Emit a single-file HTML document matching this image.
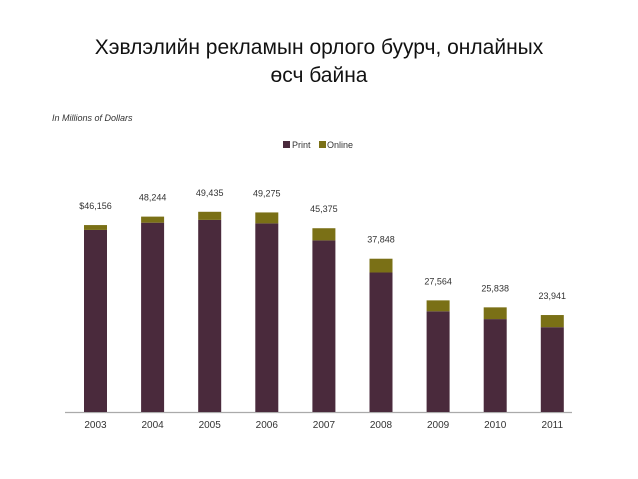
<!DOCTYPE html>
<html><head><meta charset="utf-8"><style>
body{margin:0;background:#fff;width:638px;height:479px;overflow:hidden;font-family:"Liberation Sans",sans-serif}
#title{position:absolute;left:0;top:34px;width:638px;text-align:center;font-size:21px;line-height:28px;color:#111;font-family:"Liberation Sans","DejaVu Sans",sans-serif}
</style></head><body>
<div id="title">Хэвлэлийн рекламын орлого буурч, онлайных<br>өсч байна</div>
<svg id="chart" width="638" height="479" style="position:absolute;left:0;top:0">
<text x="52" y="121" font-size="9" font-style="italic" fill="#333">In Millions of Dollars</text>
<g>
<rect x="283" y="141" width="7" height="7" fill="#4a2a3c"/>
<text x="292" y="148" font-size="9" fill="#333">Print</text>
<rect x="319" y="141" width="7" height="7" fill="#7a7016"/>
<text x="327" y="148" font-size="9" fill="#333">Online</text>
</g>
<line x1="65" y1="412.5" x2="572" y2="412.5" stroke="#aaa" stroke-width="1.2"/>
<g id="bars"></g>
</svg>
<script>
const categories=["2003","2004","2005","2006","2007","2008","2009","2010","2011"];
const totals=[46156,48244,49435,49275,45375,37848,27564,25838,23941];
const online=[1200,1500,2000,2700,3000,3400,2700,2900,3000];
const totalLabels=["$46,156","48,244","49,435","49,275","45,375","37,848","27,564","25,838","23,941"];
const base=412,scale=0.00405,x0=84,step=57.1,bw=23;
const y=v=>base-v*scale;
const xb=i=>x0+i*step;
const g=document.getElementById('bars');
const NS='http://www.w3.org/2000/svg';
categories.forEach((c,i)=>{
  const print=totals[i]-online[i];
  let r=document.createElementNS(NS,'rect');
  r.setAttribute('x',xb(i));r.setAttribute('width',bw);
  r.setAttribute('y',y(print));r.setAttribute('height',base-y(print));r.setAttribute('fill','#4a2a3c');
  
  
  g.appendChild(r);
  let o=document.createElementNS(NS,'rect');
  o.setAttribute('x',xb(i));o.setAttribute('width',bw);
  o.setAttribute('y',y(totals[i]));o.setAttribute('height',y(print)-y(totals[i]));o.setAttribute('fill','#7a7016');
  
  
  g.appendChild(o);
  let t=document.createElementNS(NS,'text');
  t.setAttribute('x',xb(i)+bw/2);t.setAttribute('y',y(totals[i])-16);
  t.setAttribute('text-anchor','middle');t.setAttribute('font-size','9');t.setAttribute('fill','#333');
  t.textContent=totalLabels[i];
  
  
  g.appendChild(t);
  let l=document.createElementNS(NS,'text');
  l.setAttribute('x',xb(i)+bw/2);l.setAttribute('y',428);
  l.setAttribute('text-anchor','middle');l.setAttribute('font-size','10');l.setAttribute('fill','#333');
  l.textContent=c;
  
  
  g.appendChild(l);
});
</script>
</body></html>
